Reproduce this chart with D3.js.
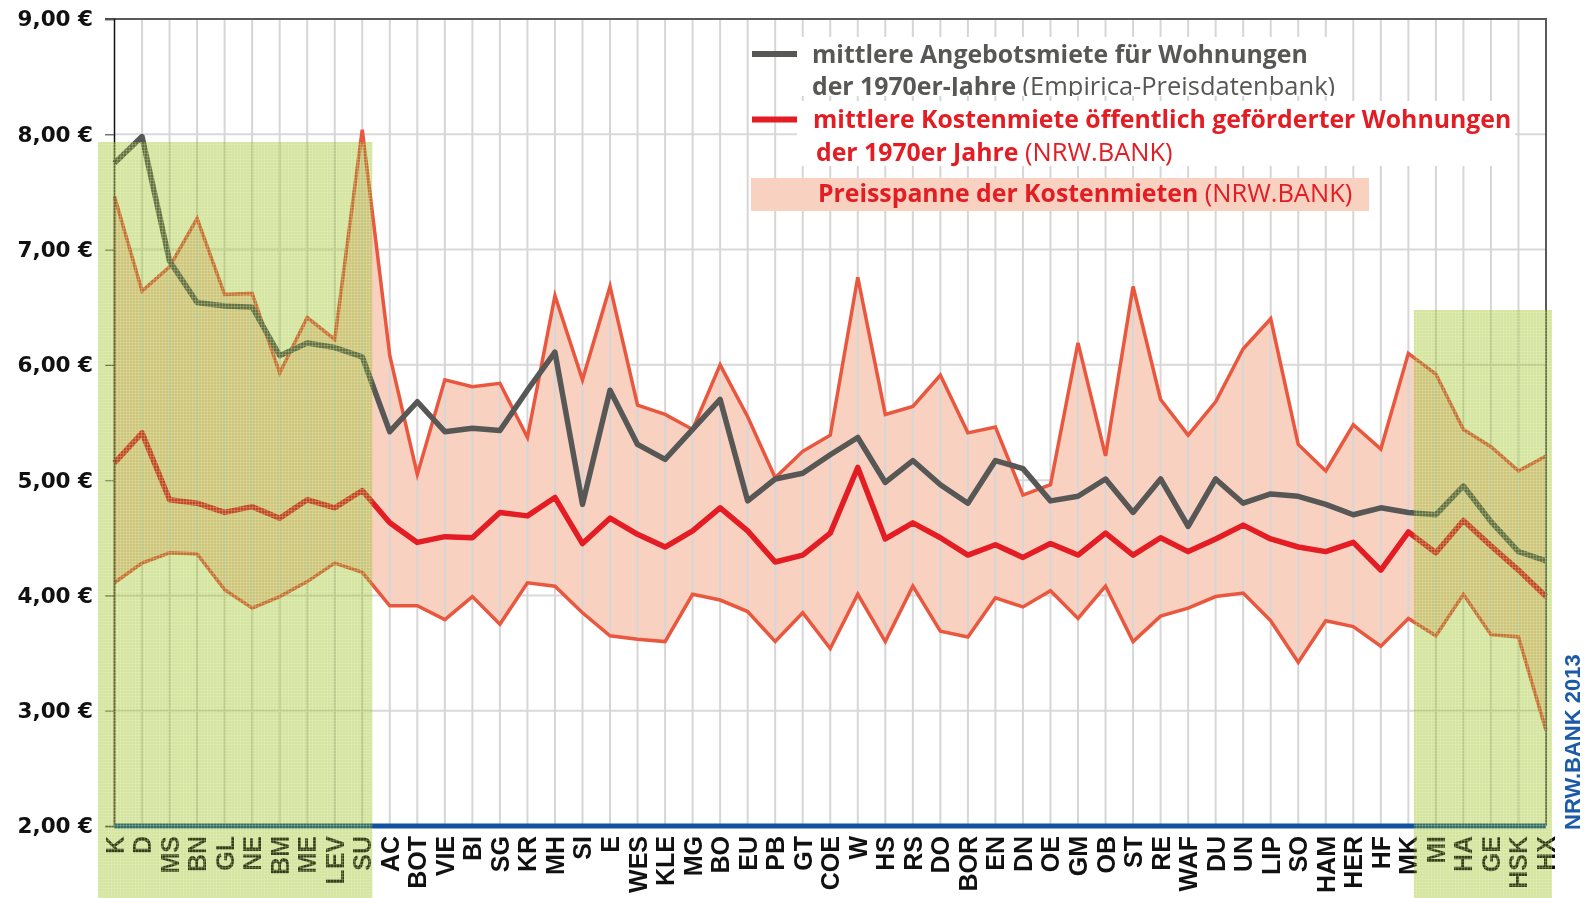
<!DOCTYPE html>
<html>
<head>
<meta charset="utf-8">
<script src="https://cdn.jsdelivr.net/npm/d3@7"></script>
<style>
    body { margin: 0; background: #fff; }
    svg { display: block; }
</style>
</head>
<body>
<div id="chart"></div>
<script>
// Kreise / kreisfreie Städte
var categories = ["K", "D", "MS", "BN", "GL", "NE", "BM", "ME", "LEV", "SU",
    "AC", "BOT", "VIE", "BI", "SG", "KR", "MH", "SI", "E", "WES",
    "KLE", "MG", "BO", "EU", "PB", "GT", "COE", "W", "HS", "RS",
    "DO", "BOR", "EN", "DN", "OE", "GM", "OB", "ST", "RE", "WAF",
    "DU", "UN", "LIP", "SO", "HAM", "HER", "HF", "MK", "MI", "HA",
    "GE", "HSK", "HX"];

// mittlere Angebotsmiete 1970er (Empirica)
var angebotsmiete = [7.75, 7.98, 6.90, 6.54, 6.51, 6.50, 6.08, 6.19, 6.15, 6.07,
    5.42, 5.68, 5.42, 5.45, 5.43, 5.78, 6.11, 4.79, 5.78, 5.31,
    5.18, 5.44, 5.70, 4.82, 5.01, 5.06, 5.22, 5.37, 4.98, 5.17,
    4.96, 4.80, 5.17, 5.10, 4.82, 4.86, 5.01, 4.72, 5.01, 4.60,
    5.01, 4.80, 4.88, 4.86, 4.79, 4.70, 4.76, 4.72, 4.70, 4.95,
    4.64, 4.38, 4.30];

// mittlere Kostenmiete (NRW.BANK)
var kostenmiete = [5.15, 5.41, 4.83, 4.80, 4.72, 4.77, 4.67, 4.83, 4.76, 4.91,
    4.63, 4.46, 4.51, 4.50, 4.72, 4.69, 4.85, 4.45, 4.67, 4.53,
    4.42, 4.56, 4.76, 4.56, 4.29, 4.35, 4.54, 5.11, 4.49, 4.63,
    4.50, 4.35, 4.44, 4.33, 4.45, 4.35, 4.54, 4.35, 4.50, 4.38,
    4.49, 4.61, 4.49, 4.42, 4.38, 4.46, 4.22, 4.55, 4.37, 4.65,
    4.43, 4.22, 3.99];

// Preisspanne: Maximum / Minimum
var spanneMax = [7.46, 6.64, 6.85, 7.27, 6.61, 6.62, 5.93, 6.41, 6.22, 8.04,
    6.08, 5.05, 5.87, 5.81, 5.84, 5.37, 6.60, 5.87, 6.68, 5.65,
    5.57, 5.44, 6.00, 5.55, 5.02, 5.25, 5.39, 6.76, 5.57, 5.64,
    5.91, 5.41, 5.46, 4.87, 4.96, 6.19, 5.21, 6.68, 5.70, 5.39,
    5.68, 6.14, 6.40, 5.31, 5.08, 5.48, 5.27, 6.10, 5.92, 5.44,
    5.29, 5.08, 5.21];

var spanneMin = [4.11, 4.28, 4.37, 4.36, 4.05, 3.89, 3.99, 4.12, 4.28, 4.20,
    3.91, 3.91, 3.79, 3.99, 3.75, 4.11, 4.08, 3.85, 3.65, 3.62,
    3.60, 4.01, 3.96, 3.86, 3.60, 3.85, 3.54, 4.01, 3.60, 4.08,
    3.69, 3.64, 3.98, 3.90, 4.04, 3.80, 4.08, 3.60, 3.82, 3.89,
    3.99, 4.02, 3.78, 3.42, 3.78, 3.73, 3.56, 3.80, 3.65, 4.01,
    3.66, 3.64, 2.83];

var yTicks = [2, 3, 4, 5, 6, 7, 8, 9];

// hervorgehobene Gruppen (grün hinterlegt)
var highlightLeft = ["K", "SU"];
var highlightRight = ["MI", "HX"];

(function () {
    var width = 1587,
        height = 898

    var svg = d3.select("#chart")
        .append("svg")
        .attr("width", width)
        .attr("height", height)

    var x = d3.scalePoint().domain(categories).range([114.5, 1546])
    var y = d3.scaleLinear().domain([2, 9]).range([826, 19])

    var data = categories.map(function (c, i) {
        return { cat: c, grey: angebotsmiete[i], red: kostenmiete[i], hi: spanneMax[i], lo: spanneMin[i] }
    })

    var defs = svg.append("defs")
    var pat = defs.append("pattern")
        .attr("id", "green-dots")
        .attr("patternUnits", "userSpaceOnUse")
        .attr("width", 3)
        .attr("height", 3)
    pat.append("rect").attr("width", 3).attr("height", 3)
        .attr("fill", "#94b82e").attr("fill-opacity", 0.27)
    pat.append("rect").attr("width", 1).attr("height", 3)
        .attr("fill", "#f2f9dc").attr("fill-opacity", 0.22)
    pat.append("rect").attr("width", 3).attr("height", 1)
        .attr("fill", "#f2f9dc").attr("fill-opacity", 0.22)

    defs.append("clipPath").attr("id", "legend-clip")
        .append("rect").attr("x", 790).attr("y", 30).attr("width", 600).attr("height", 66)

    // horizontale Gitterlinien
    svg.append("g").selectAll("line")
        .data(yTicks.slice(1, -1))
        .enter().append("line")
        .attr("x1", 114).attr("x2", 1546)
        .attr("y1", function (d) { return y(d) })
        .attr("y2", function (d) { return y(d) })
        .attr("stroke", "#d9d9d9")
        .attr("stroke-width", 2)

    // Preisspanne
    var band = d3.area()
        .x(function (d) { return x(d.cat) })
        .y0(function (d) { return y(d.lo) })
        .y1(function (d) { return y(d.hi) })

    svg.append("path")
        .datum(data)
        .attr("d", band)
        .attr("fill", "#f8d1c1")

    // vertikale Gitterlinien
    svg.append("g").selectAll("line")
        .data(categories.slice(1, -1))
        .enter().append("line")
        .attr("x1", function (d) { return x(d) })
        .attr("x2", function (d) { return x(d) })
        .attr("y1", 19).attr("y2", 826)
        .attr("stroke", "#d6d6d6")
        .attr("stroke-width", 2)

    var lineHi = d3.line().x(function (d) { return x(d.cat) }).y(function (d) { return y(d.hi) })
    var lineLo = d3.line().x(function (d) { return x(d.cat) }).y(function (d) { return y(d.lo) })
    var lineRed = d3.line().x(function (d) { return x(d.cat) }).y(function (d) { return y(d.red) })
    var lineGrey = d3.line().x(function (d) { return x(d.cat) }).y(function (d) { return y(d.grey) })

    // seitliche Kanten der Fläche
    var first = data[0], last = data[data.length - 1]
    svg.append("g").selectAll("line")
        .data([first, last])
        .enter().append("line")
        .attr("x1", function (d) { return x(d.cat) })
        .attr("x2", function (d) { return x(d.cat) })
        .attr("y1", function (d) { return y(d.hi) })
        .attr("y2", y(2))
        .attr("stroke", "#e9573f")
        .attr("stroke-width", 1.5)

    svg.append("path").datum(data).attr("d", lineHi)
        .attr("fill", "none").attr("stroke", "#e9573f").attr("stroke-width", 3.5)
    svg.append("path").datum(data).attr("d", lineLo)
        .attr("fill", "none").attr("stroke", "#e9573f").attr("stroke-width", 3.5)

    svg.append("path").datum(data).attr("d", lineRed)
        .attr("fill", "none").attr("stroke", "#e31d23").attr("stroke-width", 5.5)
        .attr("stroke-linejoin", "round")
    svg.append("path").datum(data).attr("d", lineGrey)
        .attr("fill", "none").attr("stroke", "#575756").attr("stroke-width", 5.5)
        .attr("stroke-linejoin", "round")

    // Rahmen und Achsen
    svg.append("line").attr("x1", 105).attr("x2", 1547).attr("y1", y(9)).attr("y2", y(9))
        .attr("stroke", "#5a5a5a").attr("stroke-width", 2)
    svg.append("line").attr("x1", 1546).attr("x2", 1546).attr("y1", y(9)).attr("y2", y(2))
        .attr("stroke", "#5a5a5a").attr("stroke-width", 2)

    var yAxis = svg.append("g")
        .attr("transform", "translate(114,0)")
        .call(d3.axisLeft(y).tickValues(yTicks).tickSize(9).tickFormat(function (d) {
            return d3.format(".2f")(d).replace(".", ",") + " €"
        }))
    yAxis.select(".domain").attr("stroke", "#111").attr("stroke-width", 1.5)
    yAxis.selectAll(".tick line").attr("stroke", "#555").attr("stroke-width", 1.2)
    yAxis.selectAll(".tick text")
        .attr("x", -21)
        .attr("fill", "#111")
        .style("font-family", "'DejaVu Sans', sans-serif")
        .style("font-weight", "bold")
        .style("font-size", "21.5px")

    svg.append("line").attr("x1", 114).attr("x2", 1546).attr("y1", y(2)).attr("y2", y(2))
        .attr("stroke", "#1152a0").attr("stroke-width", 5)

    svg.append("g").selectAll("text")
        .data(categories)
        .enter().append("text")
        .attr("transform", function (d) { return "translate(" + x(d) + ",836) rotate(-90)" })
        .attr("dy", "0.36em")
        .attr("text-anchor", "end")
        .attr("fill", "#111")
        .style("font-family", "'Liberation Sans', Arial, sans-serif")
        .style("font-weight", "bold")
        .style("font-size", "25px")
        .text(function (d) { return d })

    // grün hinterlegte Bereiche (Multiply + halbtransparentes Raster)
    var greens = [
        { x0: x(highlightLeft[0]) - 16.5, x1: x(highlightLeft[1]) + 10, top: 142 },
        { x0: x(highlightRight[0]) - 22, x1: x(highlightRight[1]) + 6, top: 310 }
    ]
    greens.forEach(function (g) {
        svg.append("rect")
            .attr("x", g.x0).attr("y", g.top)
            .attr("width", g.x1 - g.x0).attr("height", height - g.top)
            .attr("fill", "#ebf5c8")
            .style("mix-blend-mode", "multiply")
        svg.append("rect")
            .attr("x", g.x0).attr("y", g.top)
            .attr("width", g.x1 - g.x0).attr("height", height - g.top)
            .attr("fill", "url(#green-dots)")
    })

    // Legende
    var legend = svg.append("g")
    legend.append("rect").attr("x", 800).attr("y", 37).attr("width", 550).attr("height", 59).attr("fill", "#fff")
    legend.append("rect").attr("x", 797).attr("y", 101).attr("width", 718).attr("height", 65).attr("fill", "#fff")
    legend.append("line").attr("x1", 752).attr("x2", 797).attr("y1", 54).attr("y2", 54)
        .attr("stroke", "#575756").attr("stroke-width", 6)
    legend.append("line").attr("x1", 752).attr("x2", 797).attr("y1", 119.5).attr("y2", 119.5)
        .attr("stroke", "#e31d23").attr("stroke-width", 6)
    legend.append("rect").attr("x", 751).attr("y", 178).attr("width", 618).attr("height", 33)
        .attr("fill", "#f8d1c1")

    var legendLines = [
        { x: 812, y: 63, color: "#575756", bold: "mittlere Angebotsmiete für Wohnungen", normal: "" },
        { x: 812, y: 95, color: "#575756", bold: "der 1970er-Jahre ", normal: "(Empirica-Preisdatenbank)", clip: true },
        { x: 813, y: 128, color: "#e31d23", bold: "mittlere Kostenmiete öffentlich geförderter Wohnungen", normal: "" },
        { x: 816, y: 161, color: "#e31d23", bold: "der 1970er Jahre ", normal: "(NRW.BANK)" },
        { x: 818, y: 202, color: "#e31d23", bold: "Preisspanne der Kostenmieten ", normal: "(NRW.BANK)" }
    ]

    legendLines.forEach(function (l) {
        var t = legend.append("text")
            .attr("x", l.x).attr("y", l.y)
            .attr("fill", l.color)
            .style("font-family", "'Open Sans', sans-serif")
            .style("font-size", "24.8px")
        if (l.clip) t.attr("clip-path", "url(#legend-clip)")
        t.append("tspan").style("font-weight", "bold").text(l.bold)
        if (l.normal) t.append("tspan").style("font-weight", "normal").style("font-size", "25.5px").text(l.normal)
    })

    // Quelle
    svg.append("text")
        .attr("transform", "translate(1572,830) rotate(-90)")
        .attr("dy", "0.36em")
        .attr("fill", "#1a5aa8")
        .style("font-family", "'Liberation Sans', Arial, sans-serif")
        .style("font-weight", "bold")
        .style("font-size", "22px")
        .text("NRW.BANK 2013")
})();
</script>
</body>
</html>
